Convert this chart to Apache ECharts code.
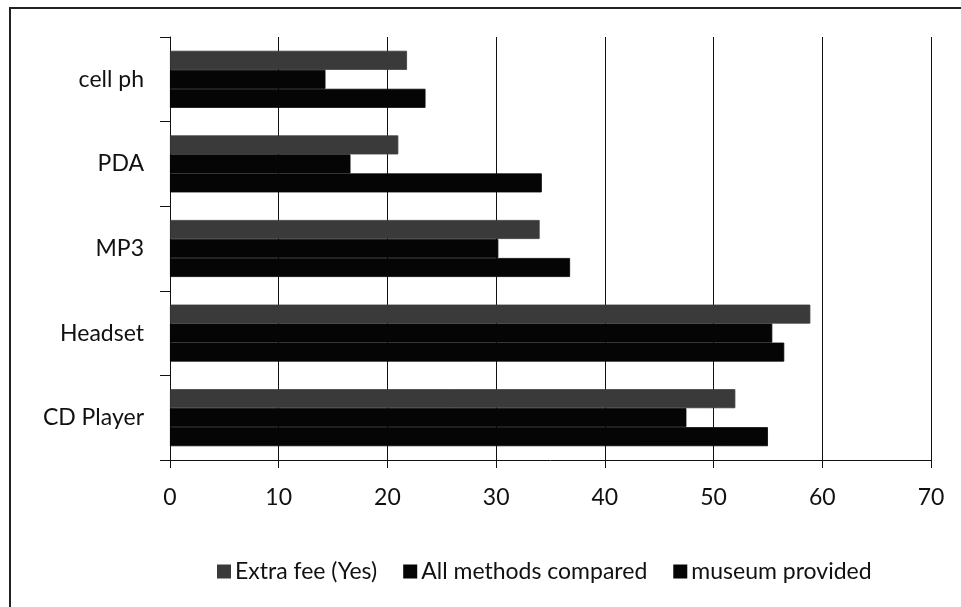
<!DOCTYPE html>
<html>
<head>
<meta charset="utf-8">
<script src="https://cdn.jsdelivr.net/npm/echarts@6/dist/echarts.min.js"></script>
<style>
  html, body { margin: 0; padding: 0; background: #fff; }
  #chart { width: 961px; height: 607px; }
</style>
</head>
<body>
<div id="chart"></div>
<script>
// Devices, listed bottom to top on the category axis
const devices = ['CD Player', 'Headset', 'MP3', 'PDA', 'cell ph'];

// Percentages per device (same order as devices)
const extraFee = [52.0, 58.9, 34.0, 21.0, 21.8];
const allMethods = [47.5, 55.4, 30.2, 16.6, 14.3];
const museumProvided = [55.0, 56.5, 36.8, 34.2, 23.5];

const seriesNames = ['Extra fee (Yes)', 'All methods compared', 'museum provided'];
const valueTicks = [0, 10, 20, 30, 40, 50, 60, 70];

const FONT = 'Lato';
const INK = '#111';

const chart = echarts.init(document.getElementById('chart'), null, { renderer: 'canvas' });

function barSeries(name, data, color) {
  return {
    name: name,
    type: 'bar',
    data: data,
    barWidth: 19,
    barGap: '0%',
    // a hairline border in the fill colour closes the anti-aliasing seams between touching bars
    itemStyle: { color: color, borderColor: color, borderWidth: 0.8 },
    emphasis: { disabled: true }
  };
}

chart.setOption({
  animation: false,
  backgroundColor: '#fff',
  textStyle: { fontFamily: FONT, color: INK },
  graphic: [{
    type: 'rect',
    shape: { x: 10, y: 8, width: 1000, height: 700 },
    style: { fill: 'none', stroke: '#222', lineWidth: 2 },
    silent: true
  }],
  legend: {
    data: seriesNames,
    left: 212,
    top: 555,
    icon: 'rect',
    itemWidth: 12,
    itemHeight: 12,
    itemGap: 26,
    textStyle: { fontFamily: FONT, fontSize: 23, color: INK },
    selectedMode: false
  },
  grid: { left: 170, right: 30, top: 37, bottom: 147, containLabel: false },
  xAxis: {
    type: 'value',
    min: valueTicks[0],
    max: valueTicks[valueTicks.length - 1],
    interval: 10,
    axisLine: { show: true, lineStyle: { color: INK, width: 1 } },
    axisTick: { show: true, length: 8, lineStyle: { color: INK } },
    axisLabel: { fontFamily: FONT, fontSize: 23, color: INK, margin: 26 },
    splitLine: { show: true, lineStyle: { color: INK, width: 1 } }
  },
  yAxis: {
    type: 'category',
    data: devices,
    axisLine: { show: true, lineStyle: { color: INK, width: 1 } },
    axisTick: { show: true, length: 10, lineStyle: { color: INK } },
    axisLabel: { fontFamily: FONT, fontSize: 23, color: INK, margin: 26 },
    splitLine: { show: false }
  },
  series: [
    barSeries(seriesNames[0], extraFee, '#3a3a3a'),
    barSeries(seriesNames[1], allMethods, '#050505'),
    barSeries(seriesNames[2], museumProvided, '#050505')
  ]
});
</script>
</body>
</html>
